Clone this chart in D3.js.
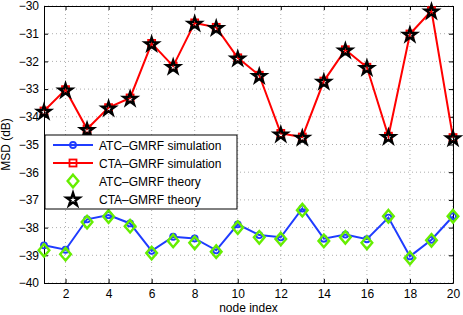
<!DOCTYPE html>
<html>
<head>
<meta charset="utf-8">
<script src="https://cdn.jsdelivr.net/npm/d3@7"></script>
<style>
  body { margin: 0; background: #fff; }
  text { font-family: "Liberation Sans", Arial, sans-serif; }
</style>
</head>
<body>
<div id="chart"></div>
<script>
var nodes = d3.range(1, 21);
var atcSim = [-38.64, -38.8, -37.7, -37.55, -37.85, -38.84, -38.33, -38.39, -38.82, -37.88,
              -38.27, -38.35, -37.31, -38.4, -38.25, -38.42, -37.64, -39.04, -38.44, -37.59];
var ctaSim = [-33.79, -33.02, -34.44, -33.67, -33.32, -31.35, -32.17, -30.61, -30.77, -31.87,
              -32.5, -34.6, -34.73, -32.71, -31.58, -32.21, -34.7, -31.01, -30.17, -34.75];
var atcTheory = [-38.82, -38.96, -37.8, -37.6, -37.95, -38.92, -38.48, -38.55, -38.87, -38.0,
                 -38.35, -38.41, -37.37, -38.48, -38.35, -38.55, -37.59, -39.1, -38.46, -37.59];
var ctaTheory = [-33.8, -33.03, -34.46, -33.68, -33.33, -31.36, -32.18, -30.62, -30.78, -31.88,
                 -32.51, -34.62, -34.74, -32.72, -31.59, -32.22, -34.71, -31.02, -30.18, -34.76];
var xTicks = [2, 4, 6, 8, 10, 12, 14, 16, 18, 20];
var yTicks = d3.range(-40, -29, 1);
var legendLabels = ["ATC\u2013GMRF simulation", "CTA\u2013GMRF simulation", "ATC\u2013GMRF theory", "CTA\u2013GMRF theory"];

var W = 463, H = 315;
var margin = { top: 6, right: 10, bottom: 32, left: 44 };
var w = W - margin.left - margin.right;
var h = H - margin.top - margin.bottom;

var svg = d3.select("#chart").append("svg")
    .attr("width", W)
    .attr("height", H);

var g = svg.append("g")
    .attr("transform", "translate(" + margin.left + "," + margin.top + ")");

var x = d3.scaleLinear().domain([1, 20]).range([0, w]);
var y = d3.scaleLinear().domain([-40, -30]).range([h, 0]);

// dotted grid
g.selectAll(".gx").data(xTicks).join("line")
    .attr("x1", d => x(d)).attr("x2", d => x(d))
    .attr("y1", 0).attr("y2", h)
    .attr("stroke", "#999").attr("stroke-width", 0.8)
    .attr("stroke-dasharray", "1,3");
g.selectAll(".gy").data(yTicks).join("line")
    .attr("x1", 0).attr("x2", w)
    .attr("y1", d => y(d)).attr("y2", d => y(d))
    .attr("stroke", "#999").attr("stroke-width", 0.8)
    .attr("stroke-dasharray", "1,3");

// axes, ticks inward
var xAxis = g.append("g")
    .attr("transform", "translate(0," + h + ")")
    .call(d3.axisBottom(x).tickValues(xTicks).tickSize(-4).tickPadding(6).tickSizeOuter(0));
var xAxisTop = g.append("g")
    .call(d3.axisTop(x).tickValues(xTicks).tickSize(-4).tickFormat("").tickSizeOuter(0));
var yAxis = g.append("g")
    .call(d3.axisLeft(y).tickValues(yTicks).tickSize(-4).tickPadding(5).tickSizeOuter(0)
        .tickFormat(d => d3.format("d")(d).replace("-", "\u2212")));
var yAxisRight = g.append("g")
    .attr("transform", "translate(" + w + ",0)")
    .call(d3.axisRight(y).tickValues(yTicks).tickSize(-4).tickFormat("").tickSizeOuter(0));

[xAxis, xAxisTop, yAxis, yAxisRight].forEach(function (a) {
    a.selectAll("text").style("font-size", "12px").attr("fill", "#000")
        .style("font-family", "'Liberation Sans', Arial, sans-serif");
    a.select(".domain").attr("stroke", "#000");
    a.selectAll(".tick line").attr("stroke", "#000");
});

svg.append("text")
    .attr("x", margin.left + w / 2).attr("y", 312)
    .attr("text-anchor", "middle")
    .style("font-size", "12px")
    .text("node index");
svg.append("text")
    .attr("transform", "translate(10," + (margin.top + h / 2) + ") rotate(-90)")
    .attr("text-anchor", "middle")
    .style("font-size", "12px")
    .text("MSD (dB)");

var line = d3.line().x((d, i) => x(nodes[i])).y(d => y(d));

var blue = "#1f3cff", red = "#ff0000", green = "#66ee00";
var diamond = function (s) {
    return "M0," + (-s) + "L" + (s * 0.85) + ",0L0," + s + "L" + (-s * 0.85) + ",0Z";
};
var star = d3.symbol().type(d3.symbolStar).size(52);

g.append("path").datum(atcSim).attr("d", line)
    .attr("fill", "none").attr("stroke", blue).attr("stroke-width", 2);
g.selectAll(".circ").data(atcSim).join("circle")
    .attr("cx", (d, i) => x(nodes[i])).attr("cy", d => y(d)).attr("r", 3)
    .attr("fill", "none").attr("stroke", blue).attr("stroke-width", 1.8);

g.append("path").datum(ctaSim).attr("d", line)
    .attr("fill", "none").attr("stroke", red).attr("stroke-width", 2);
g.selectAll(".sq").data(ctaSim).join("rect")
    .attr("x", (d, i) => x(nodes[i]) - 3.5).attr("y", d => y(d) - 3.5)
    .attr("width", 7).attr("height", 7)
    .attr("fill", "none").attr("stroke", red).attr("stroke-width", 1.8);

g.selectAll(".dia").data(atcTheory).join("path")
    .attr("transform", (d, i) => "translate(" + x(nodes[i]) + "," + y(d) + ")")
    .attr("d", diamond(6.3))
    .attr("fill", "none").attr("stroke", green).attr("stroke-width", 2.4);

g.selectAll(".star").data(ctaTheory).join("path")
    .attr("transform", (d, i) => "translate(" + x(nodes[i]) + "," + (y(d) + 0.8) + ")")
    .attr("d", star)
    .attr("fill", "none").attr("stroke", "#000").attr("stroke-width", 2.4)
    .attr("stroke-linejoin", "miter");

// legend
var lg = svg.append("g").attr("transform", "translate(45,135)");
lg.append("rect")
    .attr("width", 192).attr("height", 74)
    .attr("fill", "#fff").attr("stroke", "#000").attr("stroke-width", 1);

var rows = lg.selectAll(".row").data(legendLabels).join("g")
    .attr("transform", (d, i) => "translate(0," + (10 + i * 18) + ")");
rows.append("text")
    .attr("x", 54).attr("y", 4.5)
    .style("font-size", "12px")
    .text(d => d);

rows.filter((d, i) => i < 2).append("line")
    .attr("x1", 8).attr("x2", 48)
    .attr("stroke", (d, i) => i === 0 ? blue : red).attr("stroke-width", 2);
rows.filter((d, i) => i === 0).append("circle")
    .attr("cx", 28).attr("r", 3)
    .attr("fill", "none").attr("stroke", blue).attr("stroke-width", 1.8);
rows.filter((d, i) => i === 1).append("rect")
    .attr("x", 24.5).attr("y", -3.5).attr("width", 7).attr("height", 7)
    .attr("fill", "none").attr("stroke", red).attr("stroke-width", 1.8);
rows.filter((d, i) => i === 2).append("path")
    .attr("transform", "translate(28,0)")
    .attr("d", diamond(6.3))
    .attr("fill", "none").attr("stroke", green).attr("stroke-width", 2.4);
rows.filter((d, i) => i === 3).append("path")
    .attr("transform", "translate(28,0.8)")
    .attr("d", star)
    .attr("fill", "none").attr("stroke", "#000").attr("stroke-width", 2.4);
</script>
</body>
</html>
